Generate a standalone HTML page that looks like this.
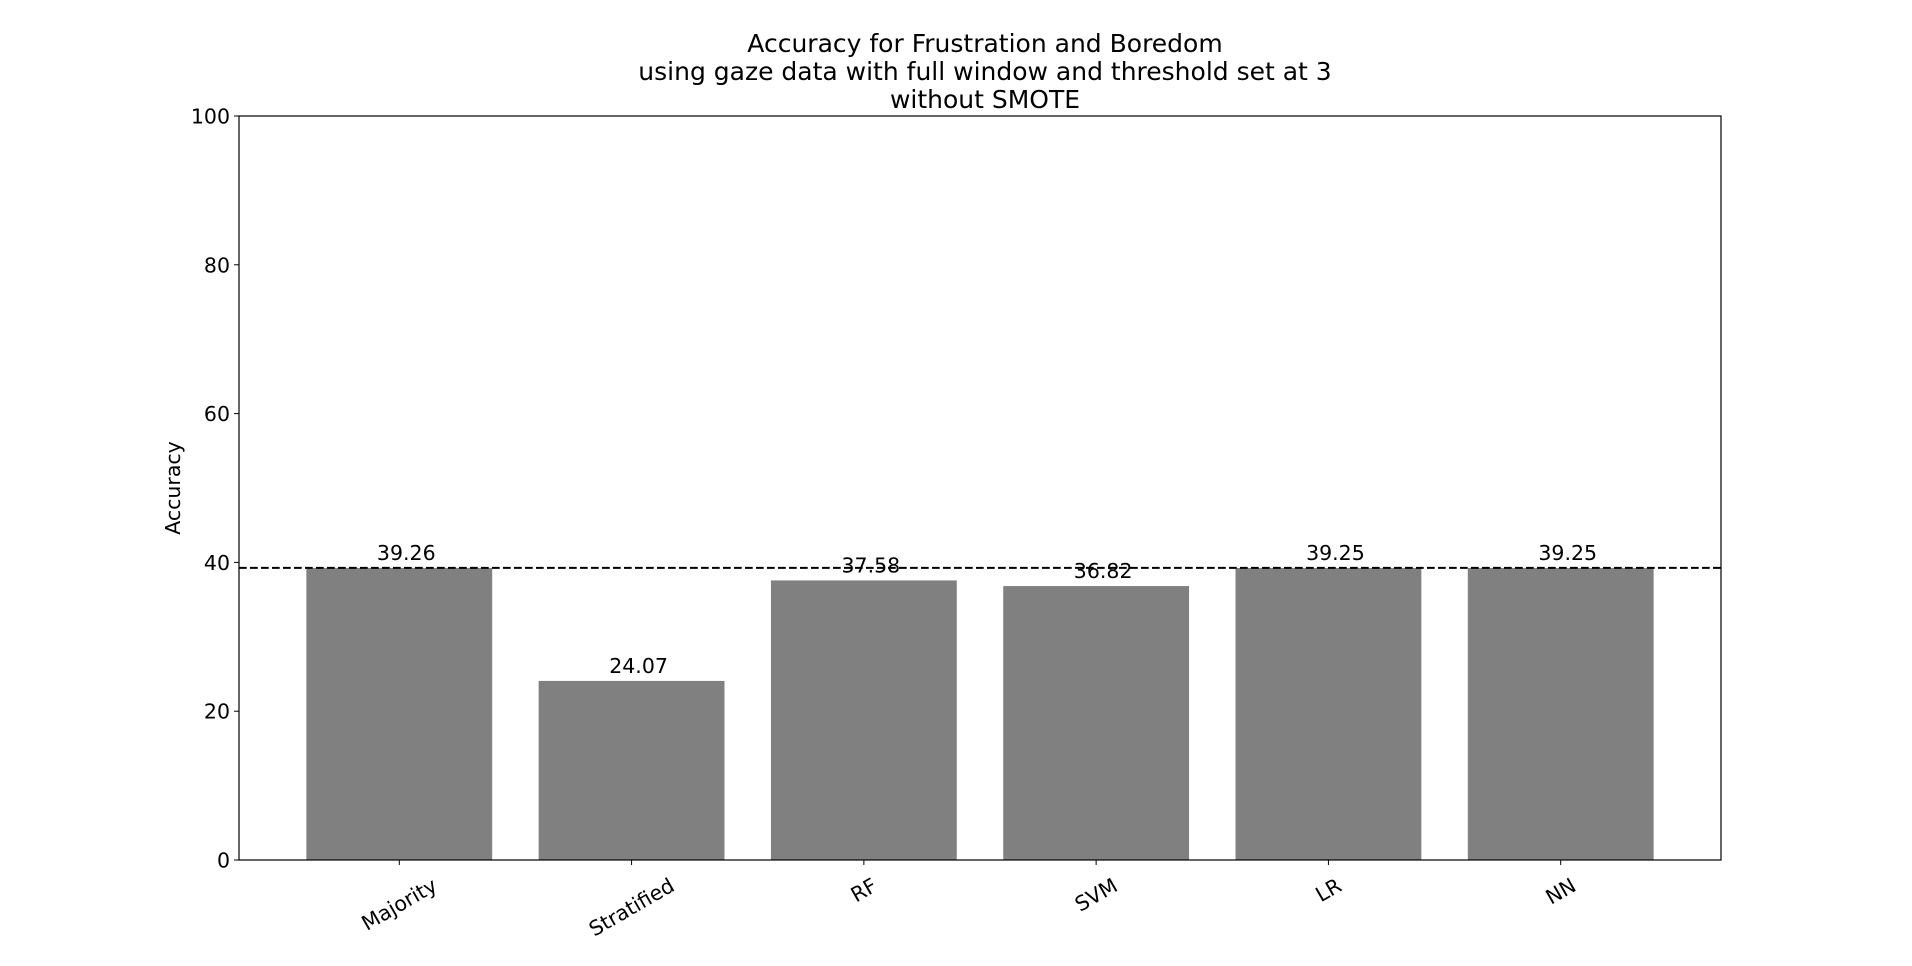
<!DOCTYPE html>
<html><head><meta charset="utf-8"><style>body{margin:0;background:#fff}svg{display:block}text{font-family:"DejaVu Sans","Liberation Sans",sans-serif;fill:#000}</style></head>
<body>
<svg id="chart" width="1912" height="966">
<rect width="1912" height="966" fill="#fff"/>
<g id="title">
<text x="985" y="52" font-size="25" text-anchor="middle">Accuracy for Frustration and Boredom</text>
<text x="985" y="80" font-size="25" text-anchor="middle">using gaze data with full window and threshold set at 3</text>
<text x="985" y="108" font-size="25" text-anchor="middle">without SMOTE</text>
</g>
<g id="plot"></g>
</svg>
<script>
const categories=["Majority","Stratified","RF","SVM","LR","NN"];
const values=[39.26,24.07,37.58,36.82,39.25,39.25];
const valueLabels=["39.26","24.07","37.58","36.82","39.25","39.25"];
const yTicks=[0,20,40,60,80,100];
const baseline=39.26;
const L=239,R=1721,T=116,B=860;
const x=v=>L+(v+0.69)*(R-L)/6.38;
const y=v=>B-v*(B-T)/100;
const NS="http://www.w3.org/2000/svg";
const g=document.getElementById('plot');
function mk(t,a,p){const e=document.createElementNS(NS,t);for(const k in a)e.setAttribute(k,a[k]);(p||g).appendChild(e);return e;}
categories.forEach((c,i)=>{
 const r=mk('rect',{x:x(i-0.4),y:y(values[i]),width:x(i+0.4)-x(i-0.4),height:B-y(values[i]),fill:'#808080'});
 
 
 const t=mk('text',{x:x(i)+7,y:y(values[i])-8,'font-size':'20.5','text-anchor':'middle'});t.textContent=valueLabels[i];
 
 
 mk('line',{x1:x(i),x2:x(i),y1:B,y2:B+5,stroke:'#000','stroke-width':1});
 const tl=mk('text',{x:0,y:0,'font-size':'20.5','text-anchor':'middle','dominant-baseline':'central'});
 tl.textContent=c;
 const w=tl.getComputedTextLength();
 const hh=(w*0.5+20*0.866)/2;
 tl.setAttribute('transform',`translate(${x(i)},${B+15+hh}) rotate(-30)`);
 
 
});
yTicks.forEach(v=>{
 mk('line',{x1:L-5,x2:L,y1:y(v),y2:y(v),stroke:'#000','stroke-width':1});
 const t=mk('text',{x:L-9,y:y(v)+7.5,'font-size':'20.5','text-anchor':'end'});t.textContent=v;
 
 
});
const dl=mk('line',{x1:L,x2:R,y1:y(baseline),y2:y(baseline),stroke:'#000','stroke-width':2,'stroke-dasharray':'7.7,3.3'});


const fr=mk('rect',{x:L,y:T,width:R-L,height:B-T,fill:'none',stroke:'#000','stroke-width':1.2});


const yl=mk('text',{x:0,y:0,'font-size':'20.5','text-anchor':'middle',transform:`translate(180,${(T+B)/2}) rotate(-90)`});yl.textContent='Accuracy';


</script>
</body></html>
